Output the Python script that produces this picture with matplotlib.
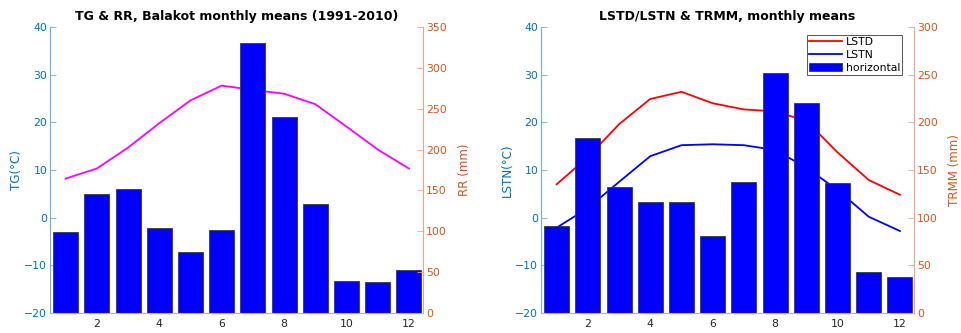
import matplotlib
matplotlib.use("Agg")
import matplotlib.pyplot as plt

months = list(range(1, 13))

# Left panel: Balakot station
tg = [8.2, 10.3, 14.7, 19.8, 24.6, 27.7, 26.8, 26.0, 23.8, 19.1, 14.3, 10.3]
rr = [98.9, 146.1, 151.8, 103.8, 74.5, 101.3, 330.0, 239.7, 133.0, 38.7, 37.9, 52.1]

# Right panel: satellite
lstd = [7.0, 12.7, 19.6, 24.9, 26.4, 24.0, 22.7, 22.3, 20.3, 13.7, 7.9, 4.8]
lstn = [-2.1, 2.0, 7.5, 12.9, 15.2, 15.4, 15.2, 14.2, 10.5, 5.8, 0.2, -2.8]
trmm = [91.0, 183.1, 132.5, 116.8, 116.8, 80.9, 137.4, 251.8, 220.4, 136.7, 42.6, 37.7]

xticks = [2, 4, 6, 8, 10, 12]

plt.rcParams['font.family'] = ['DejaVu Sans']

BLUE = '#0072BD'
ORANGE = '#D95319'
BLUE_SP = '#6FAEDC'
ORANGE_SP = '#EFA585'
TXT = '#262626'
TICK_FS = 7.8
LAB_FS = 8.6

fig = plt.figure(figsize=(9.62, 3.33), dpi=100)


def make_panel(rect, title, lines, ylabel_l, bars, ylabel_r, ymax_r, rticks, rpad, legend=False):
    ax = fig.add_axes(rect)
    handles = []
    for vals, col, lab in lines:
        h, = ax.plot(months, vals, color=col, lw=1.3, label=lab)
        handles.append(h)
    ax.set_xlim(0.5, 12.45)
    ax.set_ylim(-20, 40)
    ax.set_yticks(range(-20, 41, 10))
    ax.set_xticks(xticks)
    ax2 = ax.twinx()
    b = ax2.bar(months, bars, width=0.8, color='#0000FF', edgecolor='#3a3a3a', lw=0.6, label='horizontal')
    ax2.set_ylim(0, ymax_r)
    ax2.set_yticks(rticks)
    ax2.set_xlim(0.5, 12.45)
    for a in (ax, ax2):
        a.spines['top'].set_visible(False)
        a.tick_params(direction='in', length=4, width=0.6)
    ax.spines['left'].set_color(BLUE_SP)
    ax.spines['right'].set_visible(False)
    ax.spines['bottom'].set_color(ORANGE_SP)
    ax2.spines['left'].set_visible(False)
    ax2.spines['right'].set_color(ORANGE_SP)
    ax2.spines['bottom'].set_color(ORANGE_SP)
    ax.tick_params(axis='y', colors=BLUE, labelsize=TICK_FS, color=BLUE_SP, pad=2)
    ax.tick_params(axis='x', colors=TXT, labelsize=TICK_FS, length=0, pad=4.5)
    ax2.tick_params(axis='y', colors=ORANGE, labelsize=TICK_FS, color=ORANGE_SP, pad=2)
    ax.set_ylabel(ylabel_l, color=BLUE, fontsize=LAB_FS, labelpad=1)
    ax2.set_ylabel(ylabel_r, color=ORANGE, fontsize=LAB_FS, labelpad=rpad)
    ax.set_title(title, fontsize=9.0, fontweight='bold', pad=5)
    if legend:
        leg = ax2.legend(handles + [b], [h.get_label() for h in handles] + ['horizontal'],
                         loc='upper right', bbox_to_anchor=(0.968, 0.972), fontsize=TICK_FS,
                         frameon=True, fancybox=False, edgecolor='#555555', framealpha=1,
                         handlelength=3.05, handleheight=0.85, borderpad=0.2,
                         labelspacing=0.25, handletextpad=0.35, borderaxespad=0.0)
        leg.get_frame().set_linewidth(0.7)
    return ax, ax2


make_panel([0.052, 0.06, 0.3877, 0.859], 'TG & RR, Balakot monthly means (1991-2010)',
           [(tg, '#FF00FF', 'TG')], 'TG(°C)', rr, 'RR (mm)', 350, range(0, 351, 50), 8)

make_panel([0.5624, 0.06, 0.3877, 0.859], 'LSTD/LSTN & TRMM, monthly means',
           [(lstd, '#FF0000', 'LSTD'), (lstn, '#0000FF', 'LSTN')], 'LSTN(°C)', trmm, 'TRMM (mm)', 300,
           range(0, 301, 50), 7.5, legend=True)

fig.savefig('out.png', dpi=100)
